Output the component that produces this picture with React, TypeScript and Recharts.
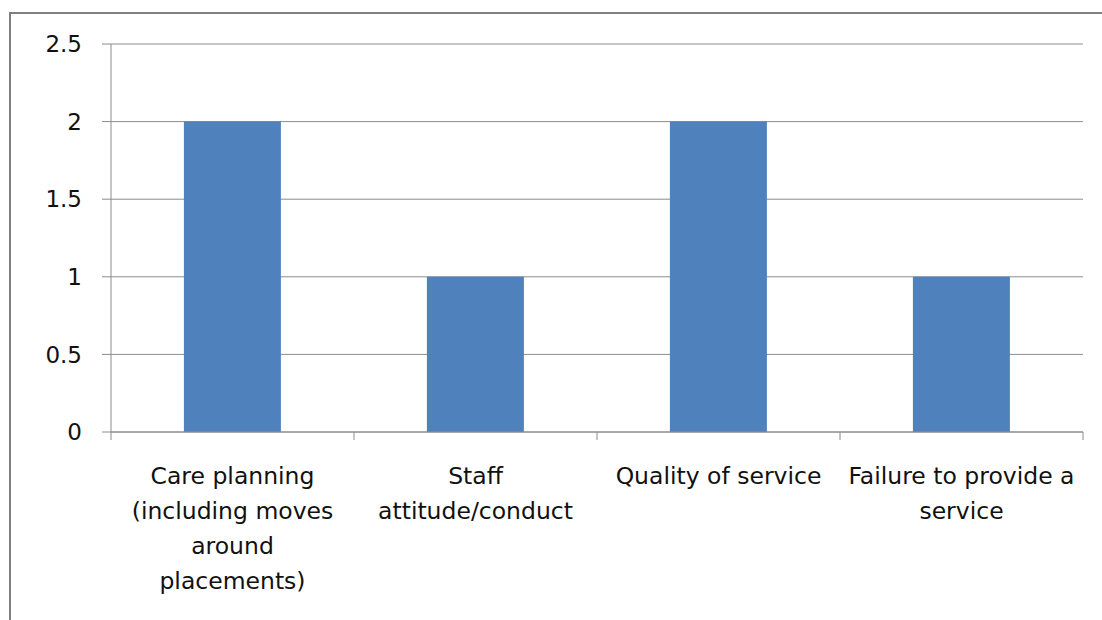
import React from 'react'
import { BarChart, Bar, XAxis, YAxis, CartesianGrid } from 'recharts'

const categories = [
  'Care planning (including moves around placements)',
  'Staff attitude/conduct',
  'Quality of service',
  'Failure to provide a service',
]
const counts = [2, 1, 2, 1]
const labelLines = [
  ['Care planning', '(including moves', 'around', 'placements)'],
  ['Staff', 'attitude/conduct'],
  ['Quality of service'],
  ['Failure to provide a', 'service'],
]
const yTicks = [0, 0.5, 1, 1.5, 2, 2.5]

const data = categories.map((name, i) => ({ name, value: counts[i] }))

const FONT = '"DejaVu Sans", sans-serif'
const AXIS = '#8c8c8c'

// category labels wrapped like the original, plus ticks on the band edges
const CategoryTick = (props: any) => {
  const { x, y, payload } = props
  const idx = categories.indexOf(payload.value)
  const half = payload.offset ?? 121.5
  const lines = labelLines[idx] || [payload.value]
  return (
    <g>
      <line x1={x - half} x2={x - half} y1={y} y2={y + 8} stroke={AXIS} />
      {idx === categories.length - 1 && (
        <line x1={x + half} x2={x + half} y1={y} y2={y + 8} stroke={AXIS} />
      )}
      <text x={x} y={y} textAnchor="middle" fontFamily={FONT} fontSize={23.5} fill="#111">
        {lines.map((l, i) => (
          <tspan key={i} x={x} dy={i === 0 ? 52 : 35}>{l}</tspan>
        ))}
      </text>
    </g>
  )
}

export default function App() {
  return (
    <div style={{ position: 'absolute', left: 9, top: 12, width: 1093, height: 608, borderLeft: '2px solid #808080', borderTop: '2px solid #808080', boxSizing: 'border-box', background: '#fff', overflow: 'hidden' }}>
      <BarChart
        width={1091}
        height={606}
        data={data}
        margin={{ top: 30, right: 19, left: 0, bottom: 0 }}
        barCategoryGap="30%"
      >
        <CartesianGrid vertical={false} stroke={AXIS} />
        <XAxis
          dataKey="name"
          interval={0}
          height={188}
          tickLine={false}
          tickSize={0}
          tickMargin={0}
          axisLine={{ stroke: AXIS }}
          tick={<CategoryTick />}
        />
        <YAxis
          width={100}
          domain={[0, 2.5]}
          ticks={yTicks}
          tickSize={9}
          tickMargin={20}
          axisLine={{ stroke: AXIS }}
          tickLine={{ stroke: AXIS }}
          tick={{ fontFamily: FONT, fontSize: 23, fill: '#111' }}
        />
        <Bar dataKey="value" fill="#4F81BD" isAnimationActive={false} />
      </BarChart>
    </div>
  )
}
